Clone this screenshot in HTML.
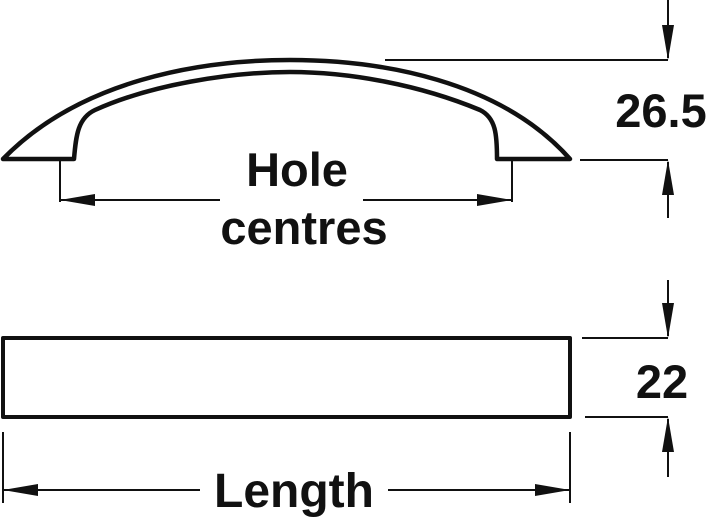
<!DOCTYPE html>
<html><head><style>
html,body{margin:0;padding:0;background:#fff;}
svg{display:block;}
text{font-family:"Liberation Sans",Arial,sans-serif;font-weight:bold;fill:#111;}
</style></head><body>
<svg width="717" height="517" viewBox="0 0 717 517" xmlns="http://www.w3.org/2000/svg">
<g fill="none" stroke="#111" stroke-linejoin="round">
<path d="M3,159 C80,80 200,60 290,60 C380,60 500,80 570,159 L497,159 C497,135 496,118 480,110 C420,85 350,72 290,72 C230,72 150,85 95,110 C78,118 76,135 74,159 Z" stroke-width="4.5"/>
<path d="M60,160 V202 M512,160 V202" stroke-width="2"/>
<path d="M60,200 H220 M363,200 H512" stroke-width="2"/>
<path d="M385,60 H668 M580,160 H668 M668,0 V58 M668,162 V218" stroke-width="2"/>
<rect x="3" y="338" width="567" height="79" stroke-width="4"/>
<path d="M582,338 H668 M585,417 H668 M668,280 V336 M668,419 V477" stroke-width="2"/>
<path d="M3,432 V503 M570,432 V503 M3,490 H200 M388,490 H570" stroke-width="2"/>
</g>
<g fill="#111">
<polygon points="60,200 95,194 95,206"/>
<polygon points="512,200 477,194 477,206"/>
<polygon points="668,60 662,25 674,25"/>
<polygon points="668,160 662,195 674,195"/>
<polygon points="668,338 662,303 674,303"/>
<polygon points="668,417 662,452 674,452"/>
<polygon points="3,490 38,484 38,496"/>
<polygon points="570,490 535,484 535,496"/>
</g>
<text x="297" y="186" font-size="47" text-anchor="middle">Hole</text>
<text x="304" y="244" font-size="47" text-anchor="middle">centres</text>
<text x="661" y="127" font-size="47" text-anchor="middle">26.5</text>
<text x="662" y="398" font-size="47" text-anchor="middle">22</text>
<text x="294" y="507" font-size="48" text-anchor="middle">Length</text>
</svg>
</body></html>
